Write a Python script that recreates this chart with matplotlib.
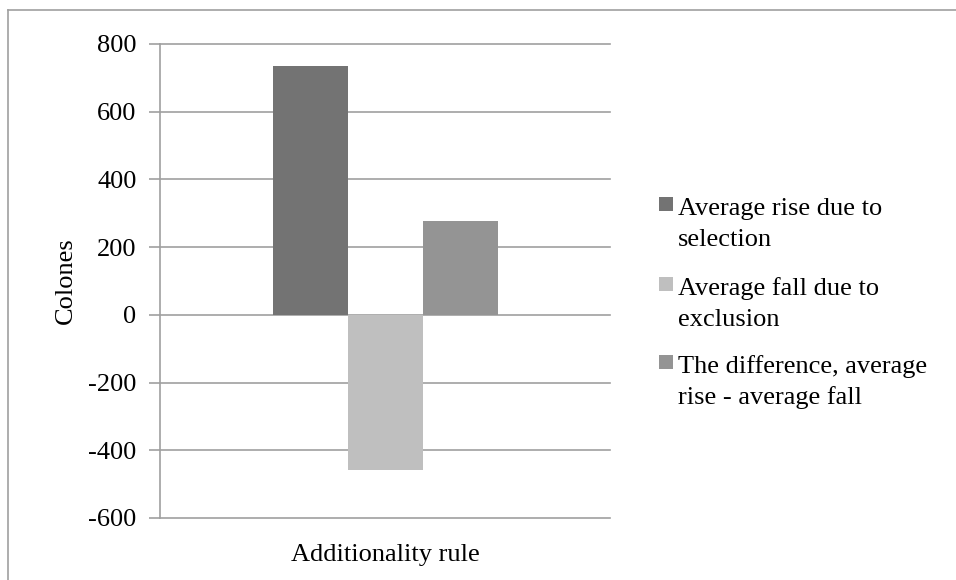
import matplotlib.pyplot as plt
from matplotlib.lines import Line2D
from matplotlib.patches import Rectangle

# data
categories = ["Additionality rule"]
series = [["Average rise due to", "selection"],
          ["Average fall due to", "exclusion"],
          ["The difference, average", "rise - average fall"]]
values = [735, -457, 278]
colors = ["#737373", "#BFBFBF", "#949494"]
yticks = [-600, -400, -200, 0, 200, 400, 600, 800]

grey = "#A0A0A0"
plt.rcParams['font.family'] = ['Liberation Serif', 'DejaVu Serif']

W, H = 956, 580
fig = plt.figure(figsize=(W / 100, H / 100), dpi=100)
ax = fig.add_axes([160 / W, 62 / H, 450 / W, 474 / H])

# one category, three bars side by side
offsets = [-1, 0, 1]
for off, val, col in zip(offsets, values, colors):
    ax.bar(off, val, width=1.0, color=col, zorder=3)

ax.set_xlim(-3, 3)
ax.set_ylim(yticks[0], yticks[-1])
ax.set_yticks(yticks)
ax.set_yticklabels([str(t) for t in yticks])
ax.set_xticks([0])
ax.set_xticklabels(categories)

ax.yaxis.grid(True, color=grey, linewidth=1.2)
ax.set_axisbelow(True)
for gl in ax.get_ygridlines():
    gl.set_clip_on(False)

for s in ["top", "right", "bottom"]:
    ax.spines[s].set_visible(False)
ax.spines["left"].set_color(grey)
ax.spines["left"].set_linewidth(1.2)

ax.tick_params(axis='y', length=8, width=1.2, color=grey, pad=9, labelsize=19)
ax.tick_params(axis='x', length=0, pad=19, labelsize=19)

ax.set_ylabel("Colones", fontsize=19)
ax.yaxis.set_label_coords((66 - 160) / 450, 0.5)
ax.yaxis.label.set_verticalalignment('center')

# legend: square key aligned with the first line of a two-line label
leg_x, key_x, key_size = 678, 659, 14
first_base = [215, 295, 373]
for lines, col, base in zip(series, colors, first_base):
    fig.add_artist(Rectangle((key_x / W, 1 - (base - 4) / H), key_size / W, key_size / H,
                             transform=fig.transFigure, facecolor=col, edgecolor='none'))
    fig.text(leg_x / W, 1 - base / H, lines[0], fontsize=19, va='baseline', ha='left')
    fig.text(leg_x / W, 1 - (base + 31) / H, lines[1], fontsize=19, va='baseline', ha='left')

# outer chart frame (top and left edges only are visible)
fig.add_artist(Line2D([8 / W, 1], [1 - 10 / H, 1 - 10 / H], color=grey, linewidth=1.2))
fig.add_artist(Line2D([8 / W, 8 / W], [0, 1 - 10 / H], color=grey, linewidth=1.2))

fig.savefig("out.png", dpi=100)
